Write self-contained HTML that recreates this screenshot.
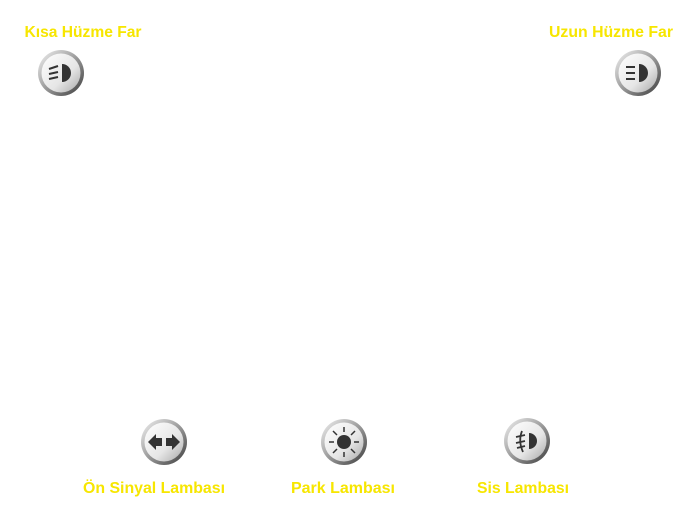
<!DOCTYPE html>
<html><head><meta charset="utf-8"><style>
body{margin:0;width:700px;height:522px;background:#fff;overflow:hidden;font-family:"Liberation Sans",sans-serif}
</style></head><body>
<svg width="700" height="522" xmlns="http://www.w3.org/2000/svg">
<defs>
<linearGradient id="rim" x1="0" y1="0" x2="1" y2="1">
<stop offset="0" stop-color="#f4f4f4"/><stop offset="0.5" stop-color="#9a9a9a"/><stop offset="1" stop-color="#3a3a3a"/>
</linearGradient>
<linearGradient id="face" x1="0" y1="0" x2="1" y2="1">
<stop offset="0" stop-color="#ffffff"/><stop offset="0.6" stop-color="#e6e6e6"/><stop offset="1" stop-color="#a8a8a8"/>
</linearGradient>
<g id="btn"><circle r="23" fill="url(#rim)"/><circle r="19.5" fill="url(#face)"/></g>
</defs>
<g font-weight="bold" font-size="15.5" fill="#f7e600" text-anchor="middle">
<text x="83" y="37" textLength="117" lengthAdjust="spacingAndGlyphs">Kısa Hüzme Far</text>
<text x="611" y="37" textLength="124" lengthAdjust="spacingAndGlyphs">Uzun Hüzme Far</text>
<text x="154" y="493" textLength="142" lengthAdjust="spacingAndGlyphs">Ön Sinyal Lambası</text>
<text x="343" y="493" textLength="104" lengthAdjust="spacingAndGlyphs">Park Lambası</text>
<text x="523" y="493" textLength="92" lengthAdjust="spacingAndGlyphs">Sis Lambası</text>
</g>
<g transform="translate(61,73)"><use href="#btn"/>
<path d="M1,-9 a9,9 0 0 1 0,18 z" fill="#333"/>
<g stroke="#333" stroke-width="2"><line x1="-12" y1="-4" x2="-3" y2="-7"/><line x1="-12" y1="1" x2="-3" y2="-1"/><line x1="-12" y1="6" x2="-3" y2="4"/></g></g>
<g transform="translate(638,73)"><use href="#btn"/>
<path d="M1,-9 a9,9 0 0 1 0,18 z" fill="#333"/>
<g stroke="#333" stroke-width="2"><line x1="-12" y1="-6" x2="-3" y2="-6"/><line x1="-12" y1="0" x2="-3" y2="0"/><line x1="-12" y1="6" x2="-3" y2="6"/></g></g>
<g transform="translate(164,442)"><use href="#btn"/>
<path d="M-16,0 L-8,-8 L-8,-4 L-2,-4 L-2,4 L-8,4 L-8,8 Z M16,0 L8,-8 L8,-4 L2,-4 L2,4 L8,4 L8,8 Z" fill="#333"/></g>
<g transform="translate(344,442)"><use href="#btn"/>
<circle r="7" fill="#333"/>
<g stroke="#333" stroke-width="1.5"><line x1="0" y1="-10" x2="0" y2="-15"/><line x1="0" y1="10" x2="0" y2="15"/><line x1="-10" y1="0" x2="-15" y2="0"/><line x1="10" y1="0" x2="15" y2="0"/><line x1="7" y1="7" x2="11" y2="11"/><line x1="-7" y1="7" x2="-11" y2="11"/><line x1="7" y1="-7" x2="11" y2="-11"/><line x1="-7" y1="-7" x2="-11" y2="-11"/></g></g>
<g transform="translate(527,441)"><use href="#btn"/>
<path d="M2,-8 a8,8 0 0 1 0,16 z" fill="#333"/>
<g stroke="#333" stroke-width="1.8" fill="none"><line x1="-11" y1="-4" x2="-2" y2="-6"/><line x1="-11" y1="2" x2="-2" y2="0"/><line x1="-10" y1="7" x2="-2" y2="5"/><path d="M-5,-10 Q-9,0 -4,11"/></g></g>
</svg>
</body></html>
